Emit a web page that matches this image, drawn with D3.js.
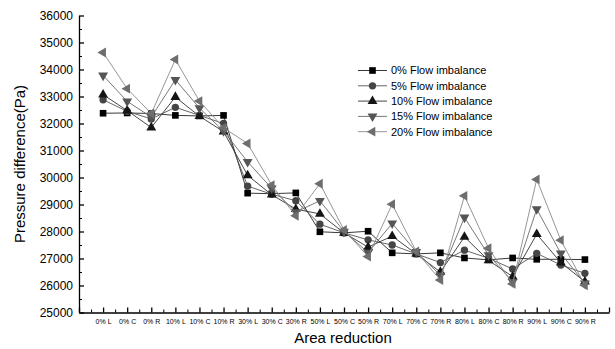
<!DOCTYPE html>
<html>
<head>
<meta charset="utf-8">
<script src="https://cdn.jsdelivr.net/npm/d3@7"></script>
<style>
  body { margin: 0; background: #fff; }
  svg { display: block; font-family: "Liberation Sans", Arial, sans-serif; }
</style>
</head>
<body>
<svg id="chart" width="615" height="349"></svg>
<script>
// Area-reduction cases along the x axis
const categories = ["0% L","0% C","0% R","10% L","10% C","10% R","30% L","30% C","30% R",
  "50% L","50% C","50% R","70% L","70% C","70% R","80% L","80% C","80% R","90% L","90% C","90% R"];

// Pressure difference (Pa) for each flow-imbalance level
const flow0  = [32380,32390,32370,32300,32280,32300,29420,29400,29430,27990,27950,28010,27210,27170,27210,27020,26950,27020,26970,26970,26960];
const flow5  = [32880,32450,32170,32600,32300,32000,29680,29380,29140,28270,27950,27690,27500,27170,26850,27310,27010,26610,27190,26760,26450];
const flow10 = [33070,32480,31850,32980,32270,31700,30080,29360,28830,28650,27950,27420,27830,27170,26500,27800,26930,26330,27900,26850,26140];
const flow15 = [33780,32820,32240,33620,32570,31720,30580,29600,28720,29140,28000,27220,28300,27250,26380,28520,27130,26140,28830,27190,26080];
const flow20 = [34630,33290,32370,34370,32830,31840,31260,29720,28580,29770,28060,27070,29010,27260,26200,29320,27380,26060,29930,27680,26010];

const seriesNames = ["0% Flow imbalance","5% Flow imbalance","10% Flow imbalance","15% Flow imbalance","20% Flow imbalance"];
const yTicks = [25000,26000,27000,28000,29000,30000,31000,32000,33000,34000,35000,36000];

const series = [
  { name: seriesNames[0], values: flow0,  symbol: d3.symbolSquare,   rot: 0,   size: 44, fill: "#000000", line: "#222222" },
  { name: seriesNames[1], values: flow5,  symbol: d3.symbolCircle,   rot: 0,   size: 42, fill: "#454545", line: "#555555" },
  { name: seriesNames[2], values: flow10, symbol: d3.symbolTriangle, rot: 0,   size: 42, fill: "#151515", line: "#333333" },
  { name: seriesNames[3], values: flow15, symbol: d3.symbolTriangle, rot: 180, size: 42, fill: "#555555", line: "#6a6a6a" },
  { name: seriesNames[4], values: flow20, symbol: d3.symbolTriangle, rot: -90, size: 42, fill: "#6e6e6e", line: "#8a8a8a" }
];

const svg = d3.select("#chart");

const x = d3.scaleLinear().domain([0, categories.length + 1]).range([79, 609]);
const y = d3.scaleLinear().domain([25000, 36000]).range([312.5, 15.5]);

// Minor ticks
svg.append("g")
  .attr("transform", "translate(79,0)")
  .call(d3.axisLeft(y).tickValues(d3.range(25500, 36000, 1000)).tickSize(-3).tickFormat(""))
  .call(g => g.select(".domain").remove())
  .call(g => g.selectAll("line").attr("stroke", "#000"));
svg.append("g")
  .attr("transform", "translate(0,312.5)")
  .call(d3.axisBottom(x).tickValues(d3.range(0.5, categories.length + 1, 1)).tickSize(-3).tickFormat(""))
  .call(g => g.select(".domain").remove())
  .call(g => g.selectAll("line").attr("stroke", "#000"));

// Y axis
svg.append("g")
  .attr("transform", "translate(79,0)")
  .call(d3.axisLeft(y).tickValues(yTicks).tickSize(-5).tickSizeOuter(0).tickPadding(6).tickFormat(d3.format("d")))
  .call(g => g.selectAll("text").attr("font-size", 12).attr("fill", "#000").attr("font-family", "Liberation Sans, Arial, sans-serif"))
  .call(g => g.selectAll("line, path").attr("stroke", "#000").attr("stroke-width", 1.3));

// X axis
svg.append("g")
  .attr("transform", "translate(0,312.5)")
  .call(d3.axisBottom(x).tickValues(d3.range(0, categories.length + 2)).tickSize(-5).tickSizeOuter(0).tickPadding(7)
    .tickFormat(i => (i >= 1 && i <= categories.length) ? categories[i - 1] : ""))
  .call(g => g.selectAll("text").attr("font-size", 7).attr("fill", "#000").attr("font-family", "Liberation Sans, Arial, sans-serif"))
  .call(g => g.selectAll("line, path").attr("stroke", "#000").attr("stroke-width", 1.3));

// Axis titles
svg.append("text")
  .attr("transform", "translate(25,164) rotate(-90)")
  .attr("text-anchor", "middle")
  .attr("font-size", 15)
  .text("Pressure difference(Pa)");
svg.append("text")
  .attr("x", 343).attr("y", 343)
  .attr("text-anchor", "middle")
  .attr("font-size", 15)
  .text("Area reduction");

const line = d3.line().x((d, i) => x(i + 1)).y(d => y(d));

series.forEach(s => {
  const g = svg.append("g");
  g.append("path")
    .datum(s.values)
    .attr("fill", "none")
    .attr("stroke", s.line)
    .attr("stroke-width", 0.9)
    .attr("d", line);
  g.selectAll("path.pt")
    .data(s.values)
    .join("path")
    .attr("class", "pt")
    .attr("d", d3.symbol().type(s.symbol).size(s.size))
    .attr("transform", (d, i) => `translate(${x(i + 1)},${y(d)}) rotate(${s.rot})`)
    .attr("fill", s.fill);
});

// Legend
const legend = svg.append("g").attr("transform", "translate(358,70.5)");
series.forEach((s, i) => {
  const row = legend.append("g").attr("transform", `translate(0,${i * 15.3})`);
  row.append("line").attr("x1", 0).attr("x2", 29).attr("y1", 0).attr("y2", 0)
    .attr("stroke", s.line).attr("stroke-width", 0.9);
  row.append("path")
    .attr("d", d3.symbol().type(s.symbol).size(s.size))
    .attr("transform", `translate(14.5,0) rotate(${s.rot})`)
    .attr("fill", s.fill);
  row.append("text")
    .attr("x", 33).attr("y", 0).attr("dy", "0.35em")
    .attr("font-size", 11)
    .text(s.name);
});
</script>
</body>
</html>
